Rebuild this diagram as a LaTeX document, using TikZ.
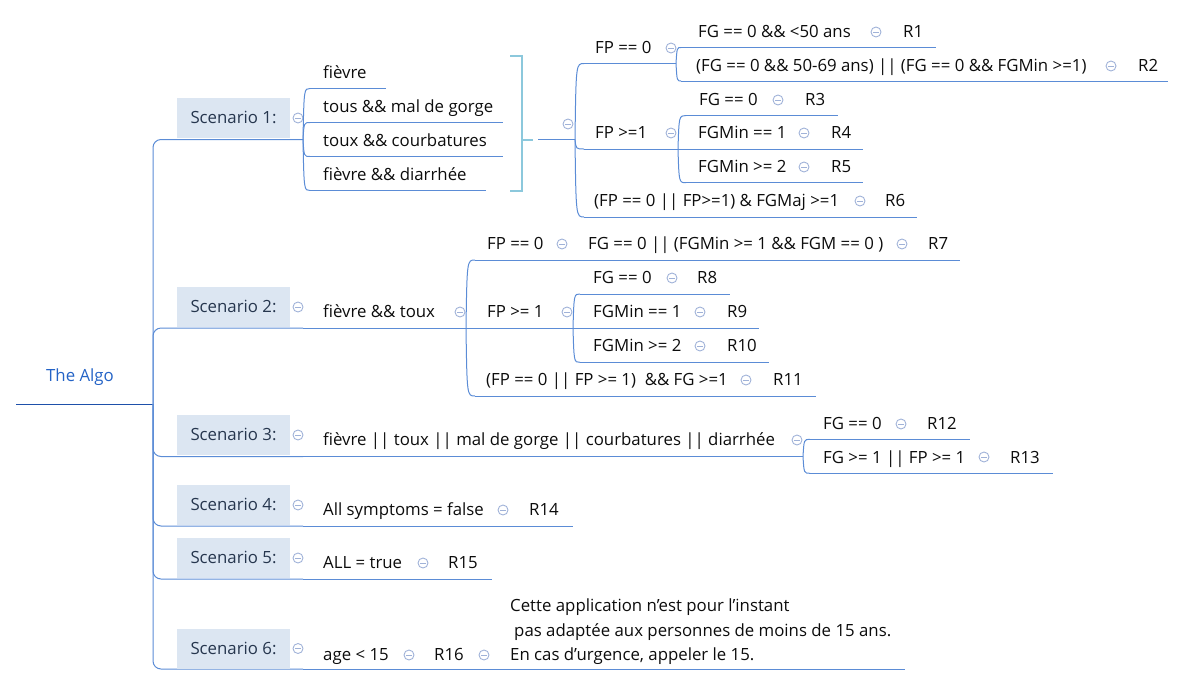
\documentclass[tikz,border=0pt]{standalone}
\usepackage{fontspec}
\setmainfont{Open Sans}
\usetikzlibrary{calc}
\definecolor{lineblue}{RGB}{91,140,214}
\definecolor{rootlinec}{RGB}{30,80,170}
\definecolor{roottext}{RGB}{36,99,198}
\definecolor{boxfill}{RGB}{220,230,242}
\definecolor{scentext}{RGB}{38,54,78}
\definecolor{txtc}{RGB}{12,12,12}
\definecolor{icoc}{RGB}{160,178,216}
\definecolor{summc}{RGB}{140,200,220}
\newcommand\mmfont{\fontsize{16.8}{24.5}\selectfont}
\newcommand\mmcurve[2]{\draw[conn] (#1) .. controls ($(#1|-#2)+(1,0)$) and ($(#1|-#2)+(1,0)$) .. (#2);}
\begin{document}
\begin{tikzpicture}[x=1pt,y=-1pt,
  conn/.style={draw=lineblue, line width=1pt},
  txt/.style={anchor=base west, inner sep=0pt, font=\mmfont, text=txtc},
  roottxt/.style={anchor=base west, inner sep=0pt, font=\mmfont, text=roottext},
  scen/.style={fill=boxfill, minimum width=113pt, minimum height=40pt, inner sep=0pt,
     text height=11.4pt, text depth=0pt, font=\mmfont, text=scentext},
  ico/.style={circle, draw=icoc, line width=0.9pt, minimum size=10pt, inner sep=0pt,
     path picture={\draw[icoc, line width=0.9pt] ([xshift=-2.6pt]path picture bounding box.center) -- ([xshift=2.6pt]path picture bounding box.center);}},
  summ/.style={draw=summc, line width=2pt}]
\path[use as bounding box] (0,0) rectangle (1180,686);

% root
\node[roottxt] (root) at (46,381) {The Algo};
\coordinate (roots) at (16,404);
\coordinate (roote) at (153,404);
\draw[draw=rootlinec, line width=1pt] (roots) -- (roote);

% scenario lines from trunk
\coordinate (s1e) at (303,139.5);
\coordinate (s2e) at (303,328);
\coordinate (s3e) at (303,456.5);
\coordinate (s4e) at (303,526);
\coordinate (s5e) at (303,579);
\coordinate (s6e) at (303,669);
\foreach \s in {s1e,s2e,s3e,s4e,s5e,s6e}{\draw[conn, rounded corners=8pt] (roote) |- (\s);}

% scenario boxes
\node[scen] (s1) at (233.5,118) {Scenario 1:};
\node[scen] (s2) at (233.5,307) {Scenario 2:};
\node[scen] (s3) at (233.5,435) {Scenario 3:};
\node[scen] (s4) at (233.5,505) {Scenario 4:};
\node[scen] (s5) at (233.5,558) {Scenario 5:};
\node[scen] (s6) at (233.5,648.5) {Scenario 6:};
\node[ico] (s1i) at (298,118) {};
\node[ico] (s2i) at (298,307) {};
\node[ico] (s3i) at (298,435) {};
\node[ico] (s4i) at (298,505) {};
\node[ico] (s5i) at (298,558) {};
\node[ico] (s6i) at (298,648.5) {};

% ---------- Scenario 1 children
\coordinate (c1as) at (310,88.5);  \coordinate (c1ae) at (386,88.5);
\coordinate (c1bs) at (310,122.5); \coordinate (c1be) at (503,122.5);
\coordinate (c1cs) at (310,156.5); \coordinate (c1ce) at (503,156.5);
\coordinate (c1ds) at (310,190.5); \coordinate (c1de) at (486,190.5);
\foreach \c in {c1a,c1b,c1c,c1d}{\draw[conn] (\c s) -- (\c e); \mmcurve{s1e}{\c s}}
\node[txt] (c1a) at (323,78) {fièvre};
\node[txt] (c1b) at (323,112.5) {tous \&\& mal de gorge};
\node[txt] (c1c) at (323,146.5) {toux \&\& courbatures};
\node[txt] (c1d) at (323,180.5) {fièvre \&\& diarrhée};

% summary bracket
\coordinate (sumtt) at (510,55.5);
\coordinate (sumt) at (521.5,55.5);
\coordinate (sumb) at (521.5,190.5);
\coordinate (sumbb) at (510,190.5);
\coordinate (summ) at (521.5,139.5);
\coordinate (summe) at (532.5,139.5);
\draw[summ] (sumtt) -- (sumt) -- (sumb) -- (sumbb);
\draw[summ] (summ) -- (summe);
\coordinate (sts) at (538,139.5); \coordinate (ste) at (575,139.5);
\draw[conn] (sts) -- (ste);
\node[ico] (sti) at (568,124) {};

% FP == 0
\coordinate (as) at (584,63.5); \coordinate (ae) at (676,63.5);
\coordinate (bs) at (584,149);  \coordinate (be) at (678,149);
\coordinate (cs) at (584,217);  \coordinate (ce) at (917,217);
\foreach \c in {a,b,c}{\draw[conn] (\c s) -- (\c e); \mmcurve{ste}{\c s}}
\node[txt] (a) at (595,53.5) {FP == 0};
\node[ico] (ai) at (671,48) {};
\node[txt] (b) at (595,138.5) {FP >=1};
\node[ico] (bi) at (671,133) {};
\node[txt] (c) at (594,206.5) {(FP == 0 || FP>=1) \& FGMaj >=1};
\node[ico] (ci) at (860,201) {};
\node[txt] (r6) at (885,206.5) {R6};

\coordinate (a1s) at (681,47.5); \coordinate (a1e) at (936,47.5);
\coordinate (a2s) at (681,81);   \coordinate (a2e) at (1168,81);
\foreach \c in {a1,a2}{\draw[conn] (\c s) -- (\c e); \mmcurve{ae}{\c s}}
\node[txt] (a1) at (698,37) {FG == 0 \&\& <50 ans};
\node[ico] (a1i) at (876,32) {};
\node[txt] (r1) at (903,37) {R1};
\node[txt] (a2) at (696,71) {(FG == 0 \&\& 50-69 ans) || (FG == 0 \&\& FGMin >=1)};
\node[ico] (a2i) at (1111,66) {};
\node[txt] (r2) at (1138,71) {R2};

\coordinate (b1s) at (686,115.7); \coordinate (b1e) at (838,115.7);
\coordinate (b2s) at (678,149);   \coordinate (b2e) at (863,149);
\coordinate (b3s) at (686,182.7); \coordinate (b3e) at (863,182.7);
\foreach \c in {b1,b2,b3}{\draw[conn] (\c s) -- (\c e);}
\mmcurve{be}{b1s}
\mmcurve{be}{b3s}
\node[txt] (b1) at (699,105.5) {FG == 0};
\node[ico] (b1i) at (778,100) {};
\node[txt] (r3) at (805,105.5) {R3};
\node[txt] (b2) at (698,138.5) {FGMin == 1};
\node[ico] (b2i) at (804,133) {};
\node[txt] (r4) at (831,138.5) {R4};
\node[txt] (b3) at (698,172.5) {FGMin >= 2};
\node[ico] (b3i) at (804,167) {};
\node[txt] (r5) at (831,172.5) {R5};

% ---------- Scenario 2
\coordinate (ds) at (303,328); \coordinate (de) at (466,328);
\draw[conn] (s2e) -- (ds) -- (de);
\node[txt] (d) at (323,317) {fièvre \&\& toux};
\node[ico] (di) at (460,312) {};

\coordinate (es) at (475,260); \coordinate (ee) at (580,260);
\coordinate (fs) at (466,328); \coordinate (fe) at (573,328);
\coordinate (gs) at (475,396); \coordinate (ge) at (816,396);
\draw[conn] (es) -- (ee);
\draw[conn] (fs) -- (fe);
\draw[conn] (gs) -- (ge);
\mmcurve{de}{es}
\mmcurve{de}{gs}
\node[txt] (e) at (487,249.5) {FP == 0};
\node[ico] (ei) at (562,244) {};
\coordinate (e1s) at (580,260); \coordinate (e1e) at (960,260);
\draw[conn] (e1s) -- (e1e);
\node[txt] (e1) at (588,249.5) {FG == 0 || (FGMin >= 1 \&\& FGM == 0 )};
\node[ico] (e1i) at (902,244) {};
\node[txt] (r7) at (928,249.5) {R7};

\node[txt] (f) at (487,317) {FP >= 1};
\node[ico] (fi) at (567,312) {};
\coordinate (f1s) at (580,294);   \coordinate (f1e) at (730,294);
\coordinate (f2s) at (573,328);   \coordinate (f2e) at (759,328);
\coordinate (f3s) at (580,362.3); \coordinate (f3e) at (769,362.3);
\foreach \c in {f1,f2,f3}{\draw[conn] (\c s) -- (\c e);}
\mmcurve{fe}{f1s}
\mmcurve{fe}{f3s}
\node[txt] (f1) at (593,283.5) {FG == 0};
\node[ico] (f1i) at (672,278) {};
\node[txt] (r8) at (697,283.5) {R8};
\node[txt] (f2) at (593,317) {FGMin == 1};
\node[ico] (f2i) at (700,312) {};
\node[txt] (r9) at (727,317) {R9};
\node[txt] (f3) at (593,351.5) {FGMin >= 2};
\node[ico] (f3i) at (700,346) {};
\node[txt] (r10) at (727,351.5) {R10};

\node[txt] (g) at (486,385.5) {(FP == 0 || FP >= 1)\ \ \&\& FG >=1};
\node[ico] (gi) at (746,380) {};
\node[txt] (r11) at (773,385.5) {R11};

% ---------- Scenario 3
\coordinate (hs) at (303,456.5); \coordinate (he) at (803,456.5);
\draw[conn] (hs) -- (he);
\node[txt] (h) at (323,445.5) {fièvre || toux || mal de gorge || courbatures || diarrhée};
\node[ico] (hi) at (797,440) {};
\coordinate (h1s) at (810,439.3); \coordinate (h1e) at (970,439.3);
\coordinate (h2s) at (810,473.3); \coordinate (h2e) at (1053,473.3);
\foreach \c in {h1,h2}{\draw[conn] (\c s) -- (\c e); \mmcurve{he}{\c s}}
\node[txt] (h1) at (823,429.5) {FG == 0};
\node[ico] (h1i) at (901,424) {};
\node[txt] (r12) at (927,429.5) {R12};
\node[txt] (h2) at (823,463) {FG >= 1 || FP >= 1};
\node[ico] (h2i) at (984,457) {};
\node[txt] (r13) at (1010,463) {R13};

% ---------- Scenario 4
\coordinate (ks) at (303,526); \coordinate (ke) at (573,526);
\draw[conn] (ks) -- (ke);
\node[txt] (k) at (323,515.5) {All symptoms = false};
\node[ico] (ki) at (503,510) {};
\node[txt] (r14) at (529,515.5) {R14};

% ---------- Scenario 5
\coordinate (ms) at (303,579); \coordinate (me) at (492,579);
\draw[conn] (ms) -- (me);
\node[txt] (m) at (323,568.5) {ALL = true};
\node[ico] (mi) at (423,563) {};
\node[txt] (r15) at (448,568.5) {R15};

% ---------- Scenario 6
\coordinate (ns) at (303,669); \coordinate (ne) at (905,669);
\draw[conn] (ns) -- (ne);
\node[txt] (n) at (323,660) {age < 15};
\node[ico] (ni) at (409,655) {};
\node[txt] (r16) at (434,660) {R16};
\node[ico] (r16i) at (484,655) {};
\node[txt] (n1) at (510,611) {Cette application n’est pour l’instant};
\node[txt] (n2) at (514,636) {pas adaptée aux personnes de moins de 15 ans.};
\node[txt] (n3) at (510,660) {En cas d’urgence, appeler le 15.};
\end{tikzpicture}
\end{document}
